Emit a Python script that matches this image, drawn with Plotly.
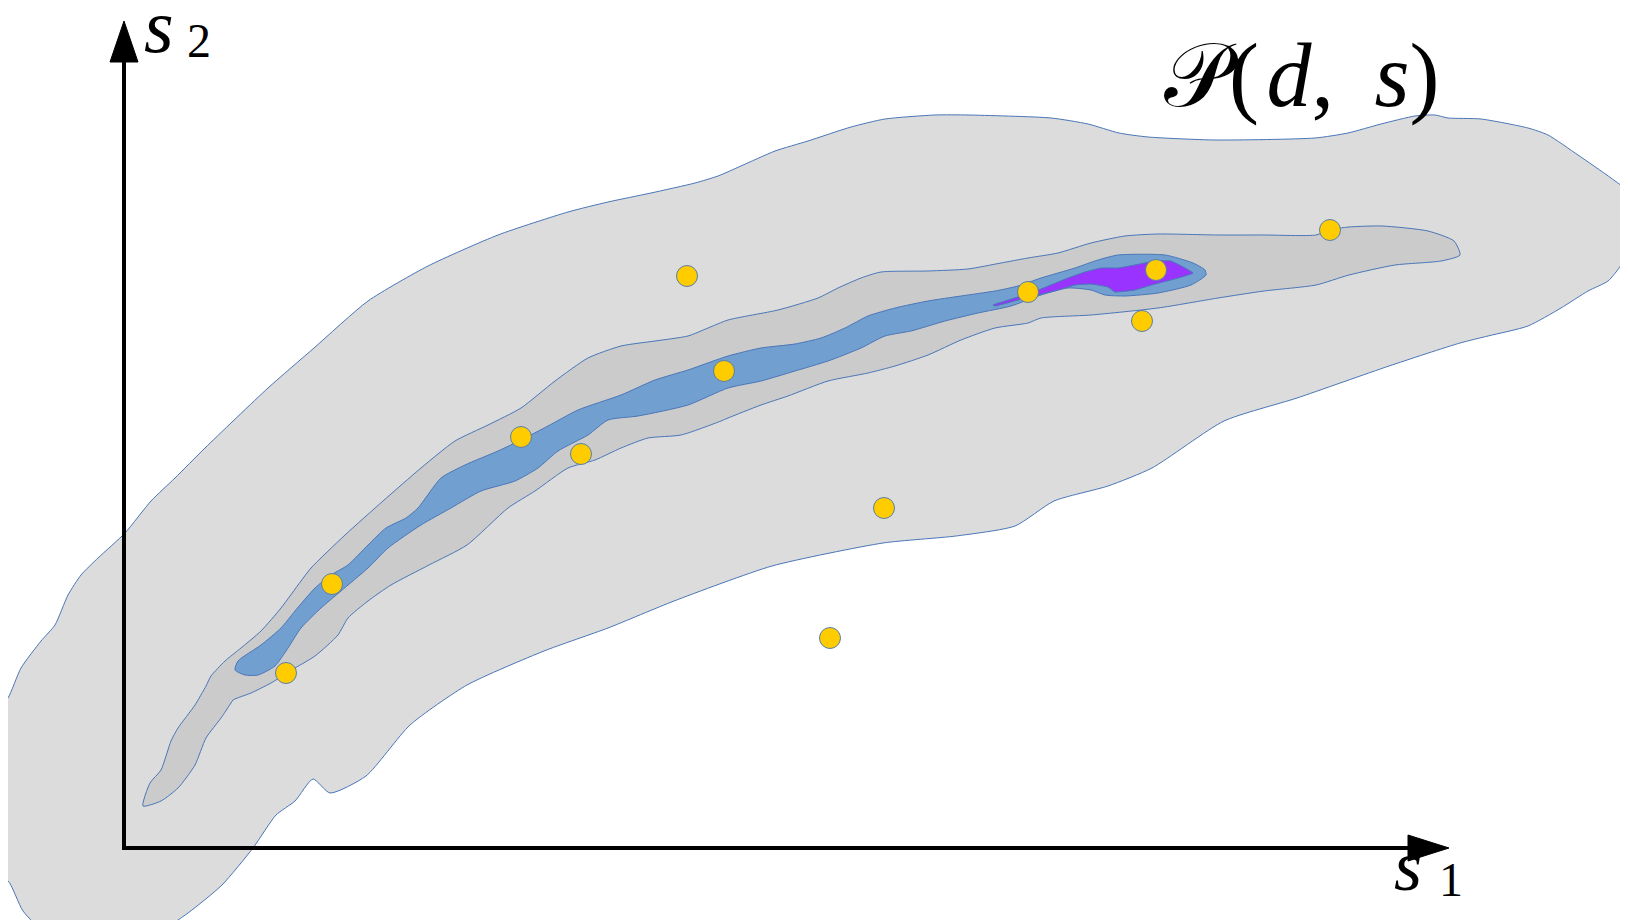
import plotly.graph_objects as go

# ---- data (pixel-like coordinate space: x right, y down) ----
outer_x = [-10, 0, 13, 33, 47, 60, 73, 90, 117, 143, 167, 197, 260, 306, 360, 420, 490, 560, 600, 643, 687, 710, 733, 767, 800, 843, 877, 927, 960, 1043, 1080, 1111, 1140, 1207, 1307, 1340, 1373, 1407, 1427, 1440, 1473, 1520, 1540, 1570, 1603, 1620, 1630, 1630, 1623, 1613, 1600, 1580, 1553, 1520, 1480, 1452, 1381, 1289, 1216, 1144, 1100, 1046, 1007, 948, 875, 764, 666, 600, 536, 459, 402, 358, 322, 305, 287, 268, 245, 214, 180, 149, 100, 38, 15, 0, -10]
outer_y = [700, 690, 660, 633, 617, 587, 567, 550, 525, 493, 470, 440, 380, 340, 293, 258, 227, 204, 194, 185, 175, 168, 158, 143, 133, 119, 111, 107, 107, 110, 116, 125, 129, 132, 130, 125, 116, 108, 107, 110, 111, 120, 127, 147, 170, 183, 197, 212, 230, 257, 273, 283, 300, 318, 328, 335, 358, 390, 413, 460, 478, 493, 518, 528, 535, 558, 593, 620, 643, 677, 717, 768, 785, 771, 793, 807, 840, 877, 905, 925, 940, 925, 903, 873, 873]

mid_x = [135, 142, 153, 163, 170, 187, 198, 203, 217, 233, 253, 273, 293, 303, 337, 375, 413, 447, 480, 513, 547, 580, 613, 647, 680, 700, 720, 770, 810, 830, 853, 873, 920, 960, 993, 1020, 1050, 1083, 1117, 1150, 1210, 1256, 1308, 1321, 1341, 1374, 1420, 1446, 1452, 1433, 1387, 1341, 1308, 1256, 1210, 1150, 1083, 1033, 1020, 987, 953, 920, 887, 860, 820, 780, 753, 720, 713, 673, 640, 613, 587, 560, 527, 500, 459, 421, 383, 360, 340, 330, 307, 287, 263, 243, 225, 223, 213, 198, 187, 170, 153]
mid_y = [798, 775, 762, 733, 720, 697, 678, 668, 653, 640, 623, 600, 573, 560, 527, 493, 460, 433, 417, 400, 373, 350, 338, 333, 328, 320, 312, 302, 290, 280, 270, 264, 263, 261, 255, 250, 245, 235, 228, 226, 227, 227, 227, 222, 219, 218, 223, 233, 247, 253, 257, 267, 277, 283, 290, 300, 307, 310, 315, 320, 332, 347, 358, 365, 373, 388, 397, 410, 413, 427, 430, 440, 452, 460, 483, 500, 537, 557, 577, 593, 610, 627, 648, 660, 675, 685, 692, 695, 710, 730, 757, 780, 793]

blue_x = [227, 230, 253, 273, 287, 307, 323, 340, 360, 378, 398, 410, 433, 457, 490, 513, 540, 570, 613, 647, 680, 720, 753, 787, 813, 837, 860, 887, 920, 953, 987, 1010, 1033, 1067, 1090, 1110, 1157, 1185, 1197, 1198, 1183, 1150, 1117, 1097, 1083, 1060, 1033, 1003, 970, 937, 903, 877, 853, 820, 787, 753, 720, 680, 630, 600, 580, 550, 530, 507, 473, 443, 413, 380, 360, 333, 313, 293, 280, 267, 250, 237]
blue_y = [662, 653, 637, 620, 603, 580, 567, 557, 537, 520, 510, 500, 470, 457, 443, 432, 418, 402, 387, 372, 362, 348, 340, 336, 330, 320, 308, 300, 293, 288, 283, 278, 270, 260, 252, 247, 247, 255, 262, 267, 277, 285, 288, 287, 282, 280, 287, 298, 305, 313, 323, 328, 340, 353, 363, 373, 380, 397, 408, 412, 427, 443, 460, 473, 483, 500, 517, 540, 560, 583, 600, 620, 640, 658, 667, 667]

purple_x = [985, 1010, 1033, 1060, 1077, 1093, 1110, 1127, 1147, 1163, 1185, 1163, 1147, 1127, 1107, 1100, 1083, 1067, 1050, 1030, 1010, 987]
purple_y = [297, 289, 281, 270, 264, 260, 260, 257, 253, 253, 265, 272, 276, 282, 284, 279, 276, 277, 282, 287, 292, 298]

dots_x = [679, 716, 513, 573, 324, 278, 876, 822, 1020, 1148, 1134, 1322]
dots_y = [268, 363, 429, 446, 576, 665, 500, 630, 284, 262, 313, 222]

axis_origin = (116, 840)
axis_x_end = 1441
axis_y_end = 13
arrow_len = 41
arrow_half = 14

W, H = 1628, 920
OUTLINE = "#4a76b8"

fig = go.Figure()

def region(xs, ys, fill, smooth=0.6):
    fig.add_trace(go.Scatter(
        x=xs + [xs[0]], y=ys + [ys[0]], mode="lines", fill="toself",
        fillcolor=fill, line=dict(color=OUTLINE, width=1, shape="spline", smoothing=smooth),
        hoverinfo="skip", showlegend=False))

region(outer_x, outer_y, "#dcdcdc")
region(mid_x, mid_y, "#cbcbcb")
region(blue_x, blue_y, "#71a0d0")
region(purple_x, purple_y, "#9933ff", smooth=0.3)

fig.add_trace(go.Scatter(
    x=dots_x, y=dots_y, mode="markers",
    marker=dict(size=21, color="#ffcc00", line=dict(color="#5b7fa8", width=1)),
    hoverinfo="skip", showlegend=False))

ox, oy = axis_origin
# axes lines
fig.add_trace(go.Scatter(x=[ox, ox, None, ox - 2, axis_x_end - arrow_len + 2],
                         y=[oy + 2, axis_y_end + arrow_len - 2, None, oy, oy],
                         mode="lines", line=dict(color="black", width=4),
                         hoverinfo="skip", showlegend=False))
# arrowheads
fig.add_trace(go.Scatter(
    x=[ox - arrow_half, ox, ox + arrow_half, ox - arrow_half],
    y=[axis_y_end + arrow_len, axis_y_end, axis_y_end + arrow_len, axis_y_end + arrow_len],
    mode="lines", fill="toself", fillcolor="black", line=dict(color="black", width=1),
    hoverinfo="skip", showlegend=False))
fig.add_trace(go.Scatter(
    x=[axis_x_end - arrow_len, axis_x_end, axis_x_end - arrow_len, axis_x_end - arrow_len],
    y=[oy - arrow_half + 1, oy, oy + arrow_half - 1, oy - arrow_half + 1],
    mode="lines", fill="toself", fillcolor="black", line=dict(color="black", width=1),
    hoverinfo="skip", showlegend=False))

FONT = "Liberation Serif"
def label(txt, x, y, size):
    fig.add_annotation(x=x, y=y, xref="x", yref="y", text=txt,
                       showarrow=False, xanchor="left", yanchor="middle",
                       font=dict(family=FONT, size=size, color="black"))

label("<i>s</i>", 134, 18, 76)
label("2", 177, 32, 48)
label("<i>s</i>", 1384, 858, 72)
label("1", 1429, 871, 48)
label("𝒫(\u200a<i>d</i>,\u2009 <i>s</i>)", 1154, 68, 90)

fig.update_layout(
    width=W, height=H, margin=dict(l=0, r=0, t=0, b=0),
    paper_bgcolor="white", plot_bgcolor="white",
    xaxis=dict(range=[0, W], visible=False, fixedrange=True),
    yaxis=dict(range=[H, 0], visible=False, fixedrange=True),
)
fig.write_html("out.html")
